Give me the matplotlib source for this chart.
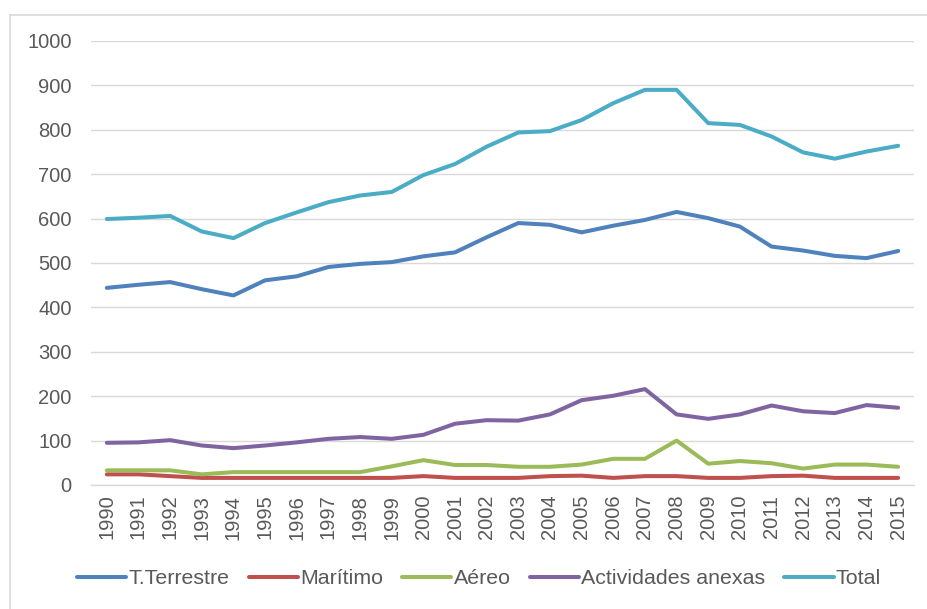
import matplotlib
matplotlib.use("Agg")
import matplotlib.pyplot as plt
from matplotlib.lines import Line2D

years = [str(y) for y in range(1990, 2016)]
terrestre = [444, 451, 457, 441, 427, 461, 470, 491, 498, 502, 515, 524, 558,
             590, 586, 569, 584, 597, 615, 601, 582, 537, 528, 516, 511, 527]
maritimo = [24, 24, 20, 16, 16, 16, 16, 16, 16, 16, 20, 16, 16,
            16, 20, 21, 16, 20, 20, 16, 16, 20, 21, 16, 16, 16]
aereo = [33, 33, 33, 24, 29, 29, 29, 29, 29, 42, 56, 45, 45,
         41, 41, 46, 59, 59, 100, 48, 54, 49, 37, 46, 46, 41]
anexas = [95, 96, 101, 89, 83, 89, 96, 104, 108, 104, 113, 138, 146,
          145, 159, 191, 201, 216, 159, 149, 159, 179, 166, 162, 180, 174]
total = [599, 602, 606, 571, 556, 590, 614, 637, 652, 660, 698, 723, 762,
         794, 797, 822, 860, 890, 890, 815, 811, 785, 749, 735, 751, 764]

series = [
    ("T.Terrestre", terrestre, "#4F81BD"),
    ("Marítimo", maritimo, "#C0504D"),
    ("Aéreo", aereo, "#9BBB59"),
    ("Actividades anexas", anexas, "#8064A2"),
    ("Total", total, "#4BACC6"),
]

plt.rcParams['font.family'] = ['Liberation Sans', 'DejaVu Sans']
W, H = 928, 609
fig = plt.figure(figsize=(W / 100, H / 100), dpi=100)
ax = fig.add_axes([91 / W, (H - 485) / H, (914 - 91) / W, (485 - 41) / H])

x = list(range(len(years)))
for name, vals, col in series:
    ax.plot(x, vals, color=col, lw=2.9, label=name, solid_capstyle='round',
            solid_joinstyle='round', zorder=3)

ax.set_xlim(-0.5, len(years) - 0.5)
ax.set_ylim(0, 1000)
ax.set_yticks(range(0, 1001, 100))
ax.set_xticks(x)
ax.set_xticklabels(years, rotation=90)
ax.grid(axis='y', color='#D9D9D9', lw=1.0, zorder=0)
for s in ['top', 'right', 'left']:
    ax.spines[s].set_visible(False)
ax.spines['bottom'].set_color('#D9D9D9')
ax.spines['bottom'].set_linewidth(1.0)
ax.tick_params(axis='both', length=0, labelcolor='#595959', labelsize=14.5)
ax.tick_params(axis='y', pad=14)
ax.tick_params(axis='x', pad=7)

leg = fig.legend(loc='center', bbox_to_anchor=(479 / W, (H - 579) / H),
                 ncol=5, frameon=False, fontsize=15.4, handlelength=2.3,
                 handletextpad=0.1, columnspacing=0.9, borderpad=0)
for t in leg.get_texts():
    t.set_color('#595959')

# outer chart border (top and left visible)
fig.add_artist(Line2D([10 / W, 1.0], [(H - 15) / H, (H - 15) / H],
                      transform=fig.transFigure, color='#D9D9D9', lw=1.2))
fig.add_artist(Line2D([10 / W, 10 / W], [(H - 15) / H, 0],
                      transform=fig.transFigure, color='#D9D9D9', lw=1.2))

fig.savefig("out.png", dpi=100)
